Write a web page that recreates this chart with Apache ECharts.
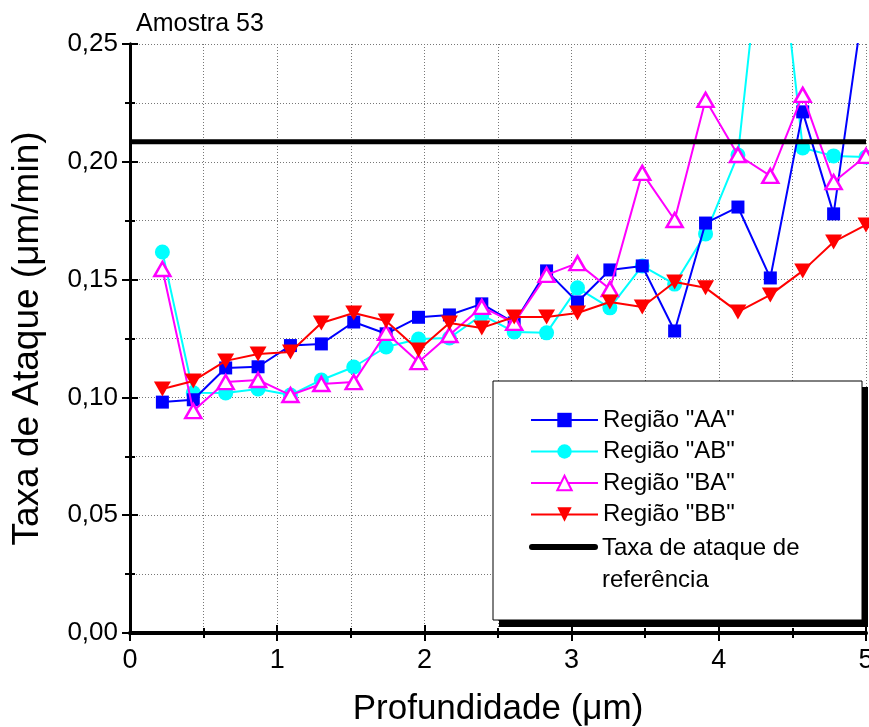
<!DOCTYPE html>
<html><head><meta charset="utf-8">
<script src="https://cdn.jsdelivr.net/npm/echarts@6/dist/echarts.min.js"></script>
<style>html,body{margin:0;padding:0;background:#fff}#c{width:869px;height:727px}</style>
</head><body><div id="c"></div>
<script>
const depth = [0.22,0.43,0.65,0.87,1.09,1.30,1.52,1.74,1.96,2.17,2.39,2.61,2.83,3.04,3.26,3.48,3.70,3.91,4.13,4.35,4.57,4.78,5.00];
const regiaoAA = [0.098,0.099,0.1125,0.113,0.122,0.1227,0.132,0.127,0.134,0.135,0.1397,0.1316,0.1537,0.1405,0.1541,0.1558,0.1282,0.174,0.1808,0.1507,0.2212,0.1779,0.275];
const regiaoAB = [0.1617,0.102,0.1019,0.1036,0.101,0.1074,0.1129,0.1214,0.1248,0.1252,0.135,0.1278,0.1274,0.1465,0.138,0.1558,0.1481,0.1694,0.2029,0.33,0.2059,0.2025,0.202];
const regiaoBA = [0.1545,0.0942,0.1065,0.1074,0.101,0.1057,0.1065,0.1274,0.115,0.1265,0.1384,0.1316,0.152,0.157,0.146,0.1953,0.1753,0.2263,0.2029,0.194,0.2284,0.1914,0.2025];
const regiaoBB = [0.1036,0.107,0.1155,0.1184,0.1193,0.1316,0.1358,0.1324,0.1201,0.1316,0.1295,0.1341,0.1341,0.1358,0.1405,0.1384,0.149,0.1465,0.1363,0.1435,0.1537,0.166,0.1732];
const referenceRate = 0.2085;
const xTicks = [0,1,2,3,4,5];
const yTicks = [0,0.05,0.10,0.15,0.20,0.25];
const names = ['Região "AA"','Região "AB"','Região "BA"','Região "BB"','Taxa de ataque de referência'];

const F = '"Liberation Sans", Arial, sans-serif';
const pair = arr => arr.map((v,i)=>[depth[i], v]);
const chart = echarts.init(document.getElementById('c'));
const grid = {left:130, right:3, top:44, bottom:94, outerBoundsMode:'none', containLabel:false};
const split = {show:true, lineStyle:{color:'#777', type:[1,2], width:1}};
const fmtY = v => v.toFixed(2).replace('.', ',');
const tickStyle = {width:2, color:'#000'};
chart.setOption({
  animation:false,
  backgroundColor:'#fff',
  title:{text:'Amostra 53', left:131, top:7, textStyle:{fontFamily:F, fontSize:25, fontWeight:'normal', color:'#000'}},
  grid:grid,
  graphic:[
    {type:'rect', z:100, shape:{x:499, y:387, width:369, height:240}, style:{fill:'#000'}},
    {type:'rect', z:101, shape:{x:493, y:381, width:369, height:239}, style:{fill:'#fff', stroke:'#000', lineWidth:1}},
    {type:'line', z:102, shape:{x1:532, y1:547, x2:595, y2:547}, style:{stroke:'#000', lineWidth:6, lineCap:'round'}},
    {type:'text', z:102, left:602, top:532, style:{text:'Taxa de ataque de\nreferência', fontFamily:F, fontSize:24, lineHeight:32, fill:'#000'}}
  ],
  legend:{
    data:names.slice(0,4), orient:'vertical', left:525, top:403, z:110,
    itemWidth:67, itemHeight:18, itemGap:7.5,
    textStyle:{fontFamily:F, fontSize:24, color:'#000', lineHeight:24}
  },
  xAxis:[{
    type:'value', min:0, max:5, interval:1, position:'bottom',
    axisLine:{lineStyle:{color:'#000', width:3}},
    axisTick:{inside:true, length:8, lineStyle:tickStyle},
    minorTick:{show:true, splitNumber:2, length:5, lineStyle:tickStyle},
    splitLine:split, minorSplitLine:split,
    axisLabel:{fontFamily:F, fontSize:27, color:'#000', margin:14, formatter: v => String(v)},
    name:'Profundidade (μm)', nameLocation:'middle', nameGap:59,
    nameTextStyle:{fontFamily:F, fontSize:35, color:'#000'}
  },{
    type:'value', min:0, max:5, interval:1, position:'top',
    axisLine:{lineStyle:{color:'#000', width:4}},
    axisTick:{inside:true, length:8, lineStyle:tickStyle},
    minorTick:{show:true, splitNumber:2, length:5, lineStyle:tickStyle},
    axisLabel:{show:false}, splitLine:{show:false}
  }],
  yAxis:[{
    type:'value', min:0, max:0.25, interval:0.05, position:'left',
    axisLine:{show:true, lineStyle:{color:'#000', width:3}},
    axisTick:{show:true, inside:true, length:8, lineStyle:tickStyle},
    minorTick:{show:true, splitNumber:2, length:5, lineStyle:tickStyle},
    splitLine:split, minorSplitLine:split,
    axisLabel:{fontFamily:F, fontSize:26, color:'#000', margin:12, formatter:fmtY},
    name:'Taxa de Ataque (μm/min)', nameLocation:'middle', nameGap:84,
    nameTextStyle:{fontFamily:F, fontSize:37, color:'#000'}
  },{
    type:'value', min:0, max:0.25, interval:0.05, position:'right',
    axisLine:{show:true, lineStyle:{color:'#000', width:3}},
    axisTick:{show:true, inside:true, length:8, lineStyle:tickStyle},
    minorTick:{show:true, splitNumber:2, length:5, lineStyle:tickStyle},
    axisLabel:{show:false}, splitLine:{show:false}
  }],
  series:[
    {name:names[0], type:'line', data:pair(regiaoAA), symbol:'rect', symbolSize:13,
     lineStyle:{color:'#0000ff', width:2}, itemStyle:{color:'#0000ff'}, z:3},
    {name:names[1], type:'line', data:pair(regiaoAB), symbol:'circle', symbolSize:15,
     lineStyle:{color:'#00ffff', width:2}, itemStyle:{color:'#00ffff'}, z:2},
    {name:names[2], type:'line', data:pair(regiaoBA), symbol:'triangle', symbolSize:[16,14],
     lineStyle:{color:'#ff00ff', width:2}, itemStyle:{color:'#fff', borderColor:'#ff00ff', borderWidth:2.5}, z:4},
    {name:names[3], type:'line', data:pair(regiaoBB), symbol:'path://M0,0 L10,0 L5,9 Z', symbolSize:[17,15],
     lineStyle:{color:'#ff0000', width:2}, itemStyle:{color:'#ff0000'}, z:5},
    {name:names[4], type:'line', data:[[0,referenceRate],[5,referenceRate]], showSymbol:false, symbol:'none',
     lineStyle:{color:'#000', width:5}, itemStyle:{color:'#000'}, z:6}
  ]
});
</script></body></html>
